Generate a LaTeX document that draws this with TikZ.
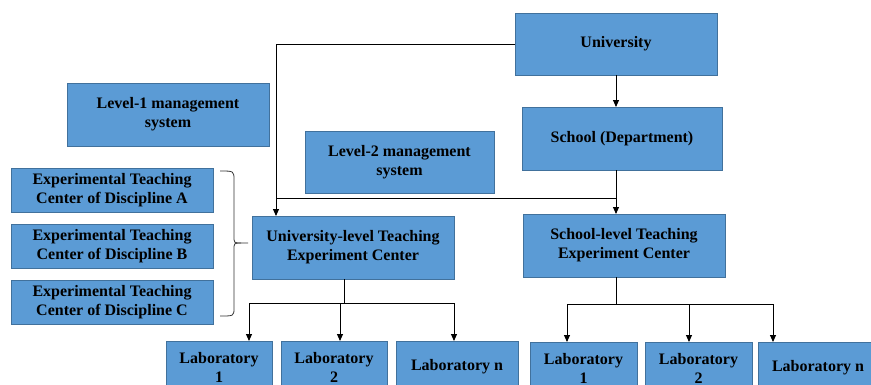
\documentclass[tikz,border=0pt]{standalone}
\usepackage{fontspec}
\setmainfont{Liberation Serif}
\usetikzlibrary{arrows.meta}
\definecolor{boxfill}{RGB}{91,155,213}
\definecolor{boxline}{RGB}{65,113,156}
\tikzset{
  box/.style={draw=boxline, fill=boxfill, line width=0.8pt, inner sep=0pt,
    align=center, font=\fontsize{16}{19}\selectfont\bfseries},
  conn/.style={draw=black, line width=0.9pt},
  arr/.style={conn, -{Triangle[length=7pt,width=6pt]}}
}
\begin{document}
\begin{tikzpicture}[x=1pt,y=-1pt]
\useasboundingbox (0,0) rectangle (871,384);
% boxes
\node[box, minimum width=202pt, minimum height=62pt] (univ) at (616,44) {University};
\node[box, minimum width=200pt, minimum height=63pt] (school) at (622,138.5) {School (Department)};
\node[box, minimum width=189pt, minimum height=62pt] (lvl2) at (399.5,162) {Level-2 management\\system};
\node[box, minimum width=202pt, minimum height=63pt] (lvl1) at (168,114.5) {Level-1 management\\system};
\node[box, minimum width=202pt, minimum height=44pt] (expA) at (112,190) {Experimental Teaching\\Center of Discipline A};
\node[box, minimum width=202pt, minimum height=44pt] (expB) at (112,246) {Experimental Teaching\\Center of Discipline B};
\node[box, minimum width=202pt, minimum height=44pt] (expC) at (112,302) {Experimental Teaching\\Center of Discipline C};
\node[box, minimum width=202pt, minimum height=63pt] (uc) at (353,247.5) {University-level Teaching\\Experiment Center};
\node[box, minimum width=202pt, minimum height=63pt] (sc) at (624,245.5) {School-level Teaching\\Experiment Center};
\node[box, minimum width=106pt, minimum height=52pt] (la1) at (219,367) {Laboratory\\1};
\node[box, minimum width=106pt, minimum height=52pt] (la2) at (334,367) {Laboratory\\2};
\node[box, minimum width=122pt, minimum height=52pt] (lan) at (457,367) {Laboratory n};
\node[box, minimum width=107pt, minimum height=52pt] (lb1) at (583.5,368) {Laboratory\\1};
\node[box, minimum width=107pt, minimum height=52pt] (lb2) at (698.5,368) {Laboratory\\2};
\node[box, minimum width=120pt, minimum height=52pt] (lbn) at (818,368) {Laboratory n};
% coordinates
\coordinate (ucin) at (276,216);
\coordinate (j2) at (276,198);
\coordinate (uout) at (616,75);
\coordinate (sin) at (616,107);
\coordinate (sout) at (616,170);
\coordinate (j1) at (616,198);
\coordinate (scin) at (616,214);
\coordinate (ucout) at (344,279);
\coordinate (ha) at (344,303);
\coordinate (ha1) at (249,303);
\coordinate (ha2) at (340,303);
\coordinate (ha3) at (454,303);
\coordinate (ta1) at (249,341);
\coordinate (ta2) at (340,341);
\coordinate (ta3) at (454,341);
\coordinate (scout) at (616,277);
\coordinate (hb) at (616,304);
\coordinate (hb1) at (567,304);
\coordinate (hb2) at (689,304);
\coordinate (hb3) at (773,304);
\coordinate (tb1) at (567,342);
\coordinate (tb2) at (689,342);
\coordinate (tb3) at (773,342);
% connectors
\draw[arr] (univ.west) -| (ucin);
\draw[arr] (uout) -- (sin);
\draw[arr] (sout) -- (scin);
\draw[conn] (j1) -- (j2);
\draw[conn] (ucout) -- (ha);
\draw[conn] (ha1) -- (ha3);
\draw[arr] (ha1) -- (ta1);
\draw[arr] (ha2) -- (ta2);
\draw[arr] (ha3) -- (ta3);
\draw[conn] (scout) -- (hb);
\draw[conn] (hb1) -- (hb3);
\draw[arr] (hb1) -- (tb1);
\draw[arr] (hb2) -- (tb2);
\draw[arr] (hb3) -- (tb3);
% brace
\draw[line width=0.8pt, draw=black!80] (220,171) .. controls (234,171) .. (234,180)
  -- (234,236) .. controls (234,243) .. (241,243) -- (248,243);
\draw[line width=0.8pt, draw=black!80] (241,243) .. controls (234,243) .. (234,250)
  -- (234,308) .. controls (234,316) .. (220,316);
\end{tikzpicture}
\end{document}
